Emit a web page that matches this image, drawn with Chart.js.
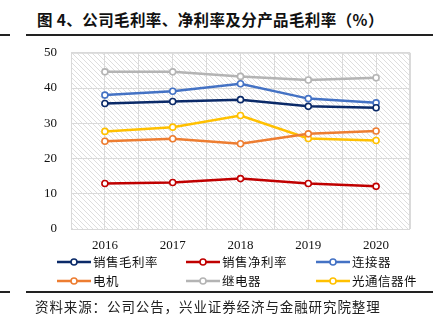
<!DOCTYPE html>
<html><head><meta charset="utf-8">
<script src="https://cdn.jsdelivr.net/npm/chart.js@4"></script>
<style>
html,body{margin:0;padding:0;background:#fff;}
body{width:447px;height:331px;position:relative;overflow:hidden;font-family:"Noto Sans CJK SC",sans-serif;}
#title{position:absolute;left:37px;top:8px;font-size:15.5px;font-weight:700;color:#111;white-space:nowrap;letter-spacing:0.4px;z-index:2;}
.rule{position:absolute;height:2px;background:#222;z-index:2;}
#chartBox{position:absolute;left:0;top:31px;width:447px;height:223px;}
#legend{position:absolute;left:0;top:250px;width:447px;}
.li{position:absolute;display:flex;align-items:center;font-size:12.5px;color:#111;white-space:nowrap;letter-spacing:0.5px;}
.li canvas{margin-right:2px;}
#source{position:absolute;left:35px;top:296px;font-size:13.5px;color:#222;white-space:nowrap;letter-spacing:0.9px;}
</style></head>
<body>
<div id="chartBox"><canvas id="c"></canvas></div>
<div id="title">图 4、公司毛利率、净利率及分产品毛利率（%）</div>
<div class="rule" style="left:0;top:34px;width:10px;"></div>
<div class="rule" style="left:26px;top:34px;width:407px;"></div>
<div id="legend"></div>
<div class="rule" style="left:0;top:291px;width:10px;"></div>
<div class="rule" style="left:26px;top:291px;width:407px;"></div>
<div id="source">资料来源：公司公告，兴业证券经济与金融研究院整理</div>
<script>
const years = ['2016','2017','2018','2019','2020'];
const grossMargin = [35.6, 36.2, 36.7, 34.8, 34.4];
const netMargin   = [12.9, 13.2, 14.3, 12.9, 12.1];
const connector   = [38.0, 39.1, 41.2, 37.0, 35.8];
const motor       = [24.9, 25.6, 24.2, 27.0, 27.8];
const relay       = [44.6, 44.6, 43.3, 42.3, 42.9];
const optical     = [27.7, 28.9, 32.2, 25.7, 25.1];
const seriesNames = ['销售毛利率','销售净利率','连接器','电机','继电器','光通信器件'];
const seriesColors = ['#0b2a68','#c00000','#4472c4','#ed7d31','#b4b4b4','#ffc000'];
const seriesData = [grossMargin, netMargin, connector, motor, relay, optical];

const datasets = seriesNames.map((n,i)=>({
  label:n, data:seriesData[i], borderColor:seriesColors[i], backgroundColor:'#fff',
  borderWidth:2.5, pointRadius:3, pointBorderWidth:1.6, pointBackgroundColor:'#fff',
  pointBorderColor:seriesColors[i], tension:0, fill:false
}));

function makePattern(ctx){
  const p=document.createElement('canvas'); p.width=5; p.height=5;
  const g=p.getContext('2d');
  g.fillStyle='#fff'; g.fillRect(0,0,5,5);
  g.strokeStyle='#dedede'; g.lineWidth=1;
  g.beginPath();
  g.moveTo(-1,-1); g.lineTo(6,6);
  g.moveTo(-1,4); g.lineTo(1,6);
  g.moveTo(4,-1); g.lineTo(6,1);
  g.stroke();
  return ctx.createPattern(p,'repeat');
}
const hatch={id:'hatch',beforeDraw(chart){
  const {ctx,chartArea:a}=chart;
  ctx.save(); ctx.fillStyle=makePattern(ctx);
  ctx.fillRect(a.left,a.top,a.right-a.left,a.bottom-a.top); ctx.restore();
}};
const frame={id:'frame',beforeDatasetsDraw(chart){
  const {ctx,chartArea:a}=chart;
  ctx.save(); ctx.strokeStyle='#d9d9d9'; ctx.lineWidth=1;
  ctx.strokeRect(a.left+0.5,a.top+0.5,a.right-a.left-1,a.bottom-a.top);
  ctx.restore();
}};

const gridColor='#dadada';
new Chart(document.getElementById('c'),{
  type:'line',
  data:{labels:years,datasets},
  plugins:[hatch,frame],
  options:{
    responsive:true,maintainAspectRatio:false,animation:false,
    layout:{padding:{left:0,right:37,top:0,bottom:0}},
    plugins:{legend:{display:false},tooltip:{enabled:false}},
    scales:{
      x:{type:'category',offset:true,
        grid:{offset:true,color:gridColor,drawTicks:false},
        border:{display:false},
        ticks:{padding:9,color:'#111',font:{family:'Liberation Serif',size:13}},
        afterFit(s){s.height=25;}
      },
      x2:{type:'category',labels:years,position:'bottom',offset:true,
        grid:{offset:false,color:gridColor,drawTicks:false},
        border:{display:false},ticks:{display:false},
        afterFit(s){s.height=0;}
      },
      y:{min:0,max:50,
        ticks:{stepSize:10,padding:14,color:'#111',font:{family:'Liberation Serif',size:13}},
        grid:{color:gridColor,drawTicks:false},border:{display:false},
        afterFit(s){s.width=71;}
      }
    }
  }
});

// HTML legend
const leg=document.getElementById('legend');
const cols=[57,186,316], rows=[2,21];
seriesNames.forEach((n,i)=>{
  const d=document.createElement('div'); d.className='li';
  d.style.left=cols[i%3]+'px'; d.style.top=rows[Math.floor(i/3)]+'px';
  const cv=document.createElement('canvas'); cv.width=34; cv.height=16;
  const g=cv.getContext('2d');
  g.strokeStyle=seriesColors[i]; g.lineWidth=2.5;
  g.beginPath(); g.moveTo(0,8); g.lineTo(34,8); g.stroke();
  g.fillStyle='#fff'; g.lineWidth=1.6;
  g.beginPath(); g.arc(17,8,3,0,Math.PI*2); g.fill(); g.stroke();
  d.appendChild(cv);
  const s=document.createElement('span'); s.textContent=n; d.appendChild(s);
  leg.appendChild(d);
});
</script>
</body></html>
